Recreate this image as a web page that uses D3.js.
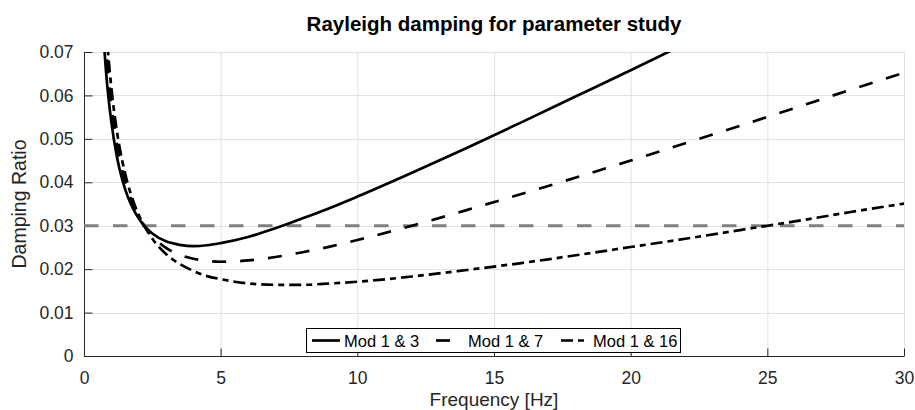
<!DOCTYPE html>
<html>
<head>
<meta charset="utf-8">
<script src="https://cdn.jsdelivr.net/npm/d3@7"></script>
<style>
  html, body { margin: 0; padding: 0; background: #fff; }
  svg { display: block; font-family: "Liberation Sans", Arial, Helvetica, sans-serif; }
</style>
</head>
<body>
<svg id="chart" width="915" height="410"></svg>
<script>
// Frequencies (Hz) at which the damping ratio of each curve is listed
const freq = [0.7, 0.8, 0.9, 1.0, 1.2, 1.4, 1.6, 1.8, 2.0, 2.2, 2.5, 3, 3.5, 4, 4.5, 5,
              6, 7, 8, 9, 10, 12, 14, 16, 18, 20, 22, 24, 26, 28, 30];

// Damping ratio, Rayleigh fit through modes 1 & 3 (stops once above the plot)
const mod1and3 = [0.0746, 0.0659, 0.0592, 0.0539, 0.0460, 0.0406, 0.0367, 0.0339, 0.0317, 0.0300,
                  0.0282, 0.0264, 0.0256, 0.0253, 0.0255, 0.0260, 0.0274, 0.0294, 0.0317, 0.0341,
                  0.0367, 0.0422, 0.0479, 0.0538, 0.0598, 0.0658, 0.0719];
// Damping ratio, modes 1 & 7
const mod1and7 = [0.0812, 0.0714, 0.0639, 0.0579, 0.0490, 0.0428, 0.0382, 0.0348, 0.0321, 0.0300,
                  0.0276, 0.0249, 0.0233, 0.0224, 0.0219, 0.0217, 0.0220, 0.0228, 0.0239, 0.0252,
                  0.0267, 0.0300, 0.0336, 0.0373, 0.0411, 0.0450, 0.0490, 0.0530, 0.0571, 0.0612, 0.0652];
// Damping ratio, modes 1 & 16
const mod1and16 = [0.0874, 0.0767, 0.0684, 0.0618, 0.0519, 0.0449, 0.0397, 0.0357, 0.0325, 0.0300,
                   0.0270, 0.0235, 0.0212, 0.0196, 0.0184, 0.0177, 0.0167, 0.0164, 0.0164, 0.0167,
                   0.0171, 0.0183, 0.0198, 0.0214, 0.0232, 0.0251, 0.0270, 0.0290, 0.0310, 0.0331, 0.0351];

const targetRatio = 0.03;

const seriesNames = ["Mod 1 & 3", "Mod 1 & 7", "Mod 1 & 16"];
const seriesValues = [mod1and3, mod1and7, mod1and16];
const seriesDash = [null, "14,14", "12,5,6,5"];

const xTicks = [0, 5, 10, 15, 20, 25, 30];
const yTicks = [0, 0.01, 0.02, 0.03, 0.04, 0.05, 0.06, 0.07];

const titleText = "Rayleigh damping for parameter study";
const xLabelText = "Frequency [Hz]";
const yLabelText = "Damping Ratio";

const svg = d3.select("#chart");
const W = 915, H = 410;
const margin = { left: 84, right: 11, top: 52, bottom: 54 };
const plotW = W - margin.left - margin.right;
const plotH = H - margin.top - margin.bottom;

const x = d3.scaleLinear().domain([0, 30]).range([margin.left, margin.left + plotW]);
const y = d3.scaleLinear().domain([0, 0.07]).range([margin.top + plotH, margin.top]);

const axisColor = "#262626";
const gridColor = "#e1e1e1";

// grid
const grid = svg.append("g");
grid.selectAll("line.gx").data(xTicks).join("line")
  .attr("x1", d => x(d) + 0.5).attr("x2", d => x(d) + 0.5)
  .attr("y1", y(0.07)).attr("y2", y(0))
  .attr("stroke", gridColor).attr("stroke-width", 1);
grid.selectAll("line.gy").data(yTicks).join("line")
  .attr("y1", d => Math.round(y(d)) + 0.5).attr("y2", d => Math.round(y(d)) + 0.5)
  .attr("x1", x(0)).attr("x2", x(30))
  .attr("stroke", gridColor).attr("stroke-width", 1);

// axes (ticks pointing inward)
const xAxis = d3.axisBottom(x).tickValues(xTicks).tickSize(-8).tickPadding(15).tickFormat(d3.format("d"));
const yAxis = d3.axisLeft(y).tickValues(yTicks).tickSize(-8).tickPadding(11)
  .tickFormat(d => d === 0 ? "0" : d3.format(".2f")(d));

const gx = svg.append("g").attr("transform", `translate(0,${y(0) + 0.5})`).call(xAxis);
const gy = svg.append("g").attr("transform", `translate(${x(0) + 0.5},0)`).call(yAxis);
[gx, gy].forEach(g => {
  g.selectAll(".tick line").attr("stroke", axisColor);
  g.selectAll(".tick text").attr("fill", axisColor)
    .style("font-size", "17.5px").style("font-family", "'Liberation Sans', Arial, sans-serif");
});
gx.select(".domain").remove();
gy.select(".domain").remove();
svg.append("line").attr("x1", x(0)).attr("x2", x(30)).attr("y1", y(0) + 0.5).attr("y2", y(0) + 0.5)
  .attr("stroke", axisColor);
svg.append("line").attr("x1", x(0) + 0.5).attr("x2", x(0) + 0.5).attr("y1", y(0.07)).attr("y2", y(0) + 1)
  .attr("stroke", axisColor);
gx.selectAll(".tick text").attr("dy", "0.71em");

// clip to the plot box
svg.append("clipPath").attr("id", "plotClip")
  .append("rect").attr("x", x(0)).attr("y", y(0.07)).attr("width", plotW).attr("height", plotH);

const plot = svg.append("g").attr("clip-path", "url(#plotClip)");

// target damping ratio
plot.append("line")
  .attr("x1", x(0)).attr("x2", x(30))
  .attr("y1", y(targetRatio)).attr("y2", y(targetRatio))
  .attr("stroke", "#808080").attr("stroke-width", 3)
  .attr("stroke-dasharray", "14.5,14.5");

const line = d3.line()
  .x((d, i) => x(freq[i]))
  .y(d => y(d))
  .curve(d3.curveMonotoneX);

seriesValues.forEach((vals, k) => {
  plot.append("path")
    .attr("d", line(vals))
    .attr("fill", "none")
    .attr("stroke", "#000")
    .attr("stroke-width", 2.7)
    .attr("stroke-dasharray", seriesDash[k]);
});

// legend
const leg = svg.append("g");
leg.append("rect").attr("x", 306.5).attr("y", 328.5).attr("width", 374).attr("height", 24)
  .attr("fill", "#fff").attr("stroke", "#000").attr("stroke-width", 1);
const legX = [312, 436, 561];
seriesNames.forEach((name, k) => {
  leg.append("line")
    .attr("x1", legX[k]).attr("x2", legX[k] + 28)
    .attr("y1", 340.5).attr("y2", 340.5)
    .attr("stroke", "#000").attr("stroke-width", 2.7)
    .attr("stroke-dasharray", seriesDash[k]);
  leg.append("text")
    .attr("x", legX[k] + 32).attr("y", 347)
    .attr("fill", "#000")
    .style("font-size", "16.5px")
    .text(name);
});

// title and axis labels
svg.append("text")
  .attr("x", x(15)).attr("y", 31)
  .attr("text-anchor", "middle")
  .style("font-size", "20.5px").style("font-weight", "bold")
  .attr("fill", "#000")
  .text(titleText);

svg.append("text")
  .attr("x", x(15)).attr("y", 405.5)
  .attr("text-anchor", "middle")
  .style("font-size", "19px")
  .attr("fill", axisColor)
  .text(xLabelText);

svg.append("text")
  .attr("transform", `translate(26,${y(0.035)}) rotate(-90)`)
  .attr("text-anchor", "middle")
  .style("font-size", "19.5px")
  .attr("fill", axisColor)
  .text(yLabelText);
</script>
</body>
</html>
